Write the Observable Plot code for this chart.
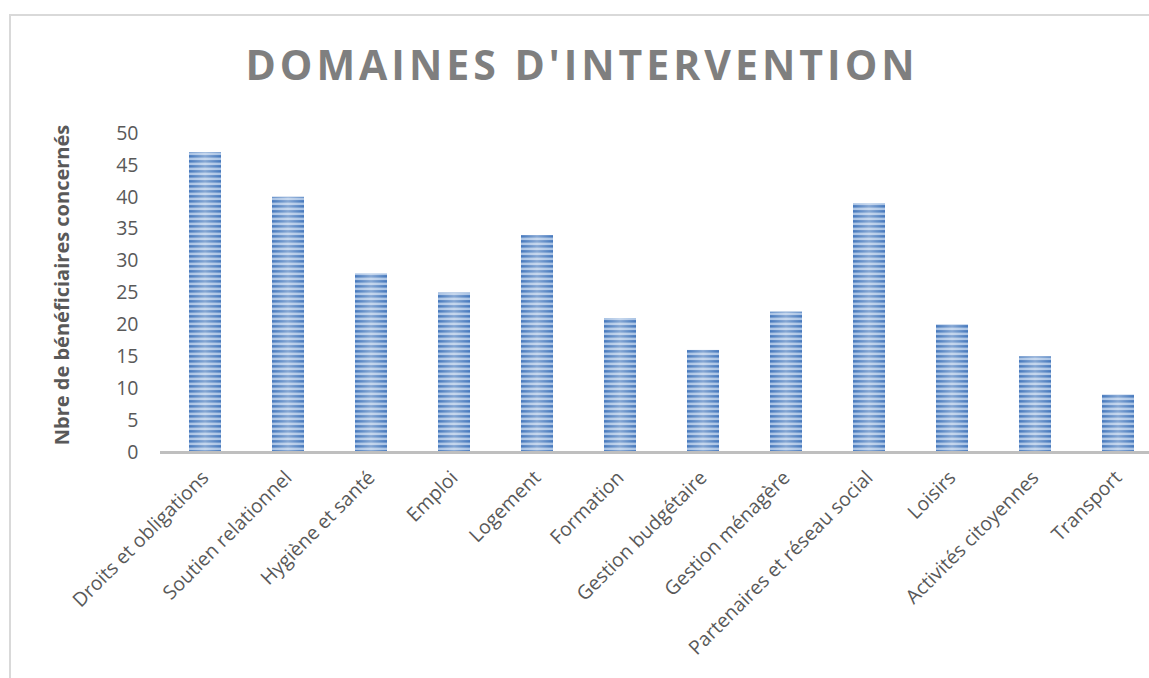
<!DOCTYPE html>
<html>
<head>
<meta charset="utf-8">
<script src="https://cdn.jsdelivr.net/npm/d3@7"></script>
<script src="https://cdn.jsdelivr.net/npm/@observablehq/plot@0.6"></script>
<style>
  html, body { margin: 0; padding: 0; background: #fff; overflow: hidden; }
  #wrap { position: relative; width: 1149px; height: 678px; overflow: hidden; }
  #border { position: absolute; left: 9px; top: 14px; width: 1160px; height: 700px;
            border-top: 2px solid #d9d9d9; border-left: 2px solid #d9d9d9; box-sizing: border-box; }
  #title { position: absolute; left: 0; top: 44px; width: 1164px; text-align: center;
           font-family: "Open Sans", sans-serif; font-weight: 700; font-size: 41px;
           letter-spacing: 4px; color: #7f7f7f; line-height: 1; white-space: nowrap; }
  #chart { position: absolute; left: 0; top: 0; }
</style>
</head>
<body>
<div id="wrap">
  <div id="border"></div>
  <div id="chart"></div>
  <div id="title">DOMAINES D'INTERVENTION</div>
</div>
<script>
const categories = [
  "Droits et obligations", "Soutien relationnel", "Hygiène et santé", "Emploi",
  "Logement", "Formation", "Gestion budgétaire", "Gestion ménagère",
  "Partenaires et réseau social", "Loisirs", "Activités citoyennes", "Transport"
];
const values = [47, 40, 28, 25, 34, 21, 16, 22, 39, 20, 15, 9];
const yTicks = [0, 5, 10, 15, 20, 25, 30, 35, 40, 45, 50];
const yLabel = "Nbre de bénéficiaires concernés";

const data = categories.map((c, i) => ({category: c, value: values[i]}));

const chart = Plot.plot({
  width: 1149,
  height: 678,
  marginLeft: 160,
  marginRight: 0,
  marginTop: 133,
  marginBottom: 226,
  style: {fontFamily: "Open Sans, sans-serif", background: "transparent", overflow: "visible"},
  x: {domain: categories, range: [160, 1162], paddingInner: 0.615, paddingOuter: 0.3075, label: null},
  y: {domain: [0, 50], label: null},
  marks: [
    Plot.barY(data, {x: "category", y: "value", fill: "url(#stripes)"}),
    Plot.barY(data, {x: "category", y: "value", fill: "url(#hshade)"}),
    Plot.ruleY([0], {stroke: "#bfbfbf", strokeWidth: 3}),
    Plot.axisY({ticks: yTicks, tickSize: 0, tickPadding: 22, fontSize: 19.5, color: "#595959", label: null}),
    Plot.axisX({tickSize: 0, tickPadding: 22, tickRotate: -45, fontSize: 19.5, color: "#595959", label: null}),
    Plot.text([yLabel], {frameAnchor: "left", textAnchor: "middle", rotate: -90, dx: -98, dy: -8, fontSize: 20,
      fontWeight: "bold", fill: "#595959"})
  ]
});

const ns = "http://www.w3.org/2000/svg";
const defs = document.createElementNS(ns, "defs");
defs.innerHTML = `
  <pattern id="stripes" patternUnits="userSpaceOnUse" x="0" y="${452 % 5}" width="10" height="5">
    <rect x="0" y="0" width="10" height="5" fill="#4679bd"/>
    <rect x="0" y="0.6" width="10" height="2.5" fill="#a8c2e4"/>
  </pattern>
  <linearGradient id="hshade" x1="0" y1="0" x2="1" y2="0">
    <stop offset="0" stop-color="#ffffff" stop-opacity="0"/>
    <stop offset="0.5" stop-color="#ffffff" stop-opacity="0.35"/>
    <stop offset="1" stop-color="#ffffff" stop-opacity="0"/>
  </linearGradient>`;
chart.insertBefore(defs, chart.firstChild);
document.getElementById("chart").appendChild(chart);
</script>
</body>
</html>
